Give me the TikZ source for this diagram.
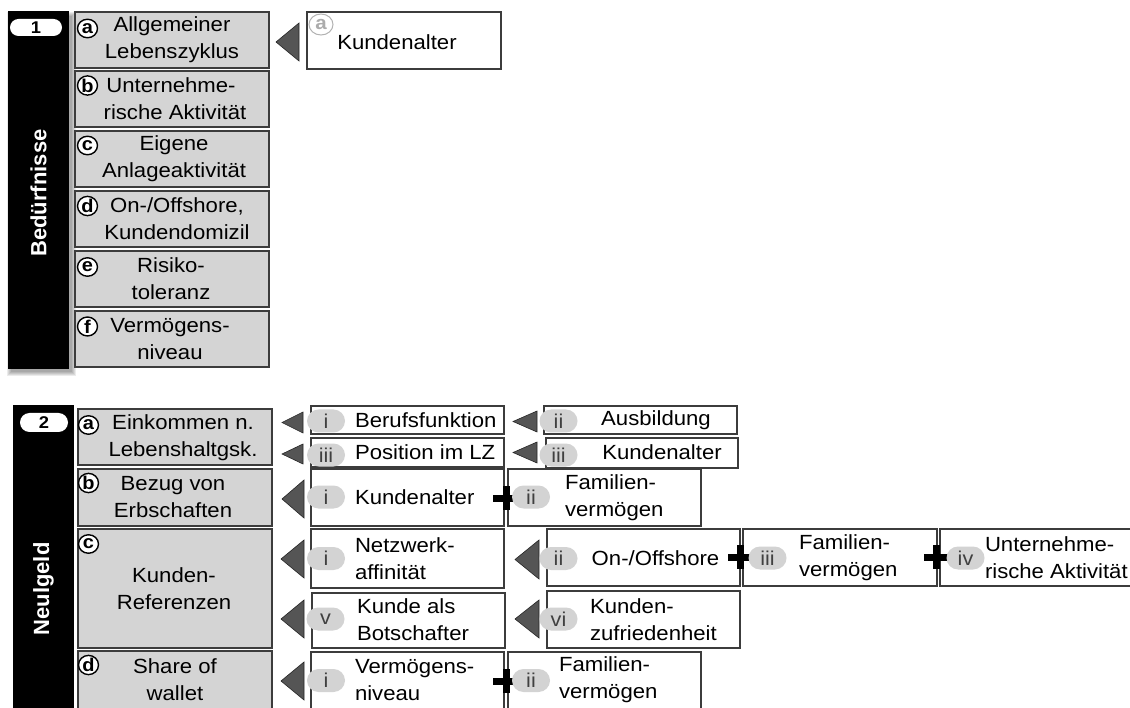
\documentclass[tikz,border=0pt]{standalone}
\usepackage{fontspec}
\setmainfont{Liberation Sans}[FakeStretch=1.08]
\newfontfamily\titlefont{Liberation Sans}
\usetikzlibrary{calc,shapes.geometric}
\definecolor{boxgray}{HTML}{D4D4D4}
\definecolor{edge}{HTML}{3C3C3C}
\definecolor{pillgray}{HTML}{D3D3D3}
\definecolor{wedgegray}{HTML}{555555}

\tikzset{
  every node/.style={inner sep=0pt, outer sep=0pt},
  cat/.style={draw=edge, line width=1.1pt, fill=boxgray, anchor=north west, minimum width=194pt},
  wbox/.style={draw=edge, line width=1.1pt, fill=white, anchor=north west},
  lbl/.style={font=\fontsize{20.5}{27}\selectfont, align=center},
  lbll/.style={font=\fontsize{20.5}{27}\selectfont, align=left, anchor=west},
  letter/.style={ellipse, draw=black, line width=1.4pt, fill=white, minimum width=20pt,
                 minimum height=18.5pt, font=\fontsize{18.5}{18.5}\bfseries\selectfont},
  pill/.style={fill=pillgray, rounded corners=11.5pt, minimum width=38pt, minimum height=23pt,
               font=\fontsize{20}{20}\selectfont, text=black!75},
  bar/.style={fill=black, anchor=north west, minimum width=61pt},
  num/.style={fill=white, rounded corners=8.5pt, minimum width=52pt, minimum height=17pt,
              font=\fontsize{17}{17}\bfseries\selectfont},
  vtitle/.style={rotate=90, text=white, font=\titlefont\fontsize{22}{22}\bfseries\selectfont},
  wedgefill/.style={fill=wedgegray, draw=black!85, line width=0.6pt, line join=miter},
}

% left-pointing wedge: name of its tip, tip x, centre y, width, height
\newcommand\wedgemark[5]{%
  \coordinate (#1) at (#2,#3);
  \filldraw[wedgefill] (#1) -- ++(#4,-#5/2) -- ++(0,#5) -- cycle;}
% bold plus sign joining two factors
\newcommand\plusmark[3]{%
  \coordinate (#1) at (#2,#3);
  \fill ($(#1)+(-13,-3.5)$) rectangle ($(#1)+(13,3.5)$);
  \fill ($(#1)+(-3.5,-12)$) rectangle ($(#1)+(3.5,12)$);}

\begin{document}
\begin{tikzpicture}[x=1pt, y=-1pt]
\useasboundingbox (0,0) rectangle (1130,708);
\clip (0,0) rectangle (1130,708);
\fill[white] (0,0) rectangle (1130,708);

%% ---------- 1: Bedürfnisse ----------
\foreach \d in {0,1,2,3,4}
  \fill[black, opacity=0.08] (11-\d,16-\d) rectangle (72+\d,372+\d);
\node[bar, minimum height=358pt] (bar1) at (8,11) {};
\node[num] (num1) at (36,27.5) {1};
\node[vtitle] (t1) at (38.5,193) {Bedürfnisse};

\node[cat, minimum height=56pt] (n1a) at (75,12) {};
\node[lbl] (n1at) at (172,40) {Allgemeiner\\Lebenszyklus};
\node[letter] (l1a) at (87.5,28.5) {a};

\node[cat, minimum height=56pt] (n1b) at (75,71) {};
\node[lbl] (n1bt) at (175,99) {\hspace*{-8pt}Unternehme-\\rische Aktivität};
\node[letter] (l1b) at (87.5,85.5) {b};

\node[cat, minimum height=56pt] (n1c) at (75,131) {};
\node[lbl] (n1ct) at (174,159) {Eigene\\Anlageaktivität};
\node[letter] (l1c) at (87.5,145.5) {c};

\node[cat, minimum height=56pt] (n1d) at (75,191) {};
\node[lbl] (n1dt) at (177,219) {On-/Offshore,\\Kundendomizil};
\node[letter] (l1d) at (87.5,206) {d};

\node[cat, minimum height=56pt] (n1e) at (75,251) {};
\node[lbl] (n1et) at (171,279) {Risiko-\\toleranz};
\node[letter] (l1e) at (87.5,267) {e};

\node[cat, minimum height=56pt] (n1f) at (75,311) {};
\node[lbl] (n1ft) at (170,339) {Vermögens-\\niveau};
\node[letter] (l1f) at (87.5,326.5) {f};

\wedgemark{w1a}{276}{42}{23}{38}
\node[wbox, minimum width=194pt, minimum height=57pt] (k1a) at (307,12) {};
\node[ellipse, draw=gray!60, line width=1pt, fill=white, minimum width=24pt, minimum height=21pt,
      text=gray!65, font=\fontsize{19}{19}\bfseries\selectfont] (k1al) at (321,24.5) {a};
\node[lbl] (k1at) at (397,42) {Kundenalter};

%% ---------- 2: Neugeld ----------
\node[bar, minimum height=320pt] (bar2) at (13,405) {};
\node[num, minimum width=48pt, minimum height=19pt, rounded corners=9.5pt] (num2) at (44,422.5) {2};
\node[vtitle] (t2) at (43.5,589) {Neulgeld};

\node[cat, minimum height=56pt] (n2a) at (78,409) {};
\node[lbl] (n2at) at (183,437.5) {Einkommen n.\\Lebenshaltgsk.};
\node[letter] (l2a) at (88.5,425) {a};

\node[cat, minimum height=57pt] (n2b) at (78,469) {};
\node[lbl] (n2bt) at (173,497.5) {Bezug von\\Erbschaften};
\node[letter] (l2b) at (88.5,483) {b};

\node[cat, minimum height=119pt] (n2c) at (78,529) {};
\node[lbl] (n2ct) at (174,588.5) {Kunden-\\Referenzen};
\node[letter] (l2c) at (88.5,544) {c};

\node[cat, minimum height=60pt] (n2d) at (78,651) {};
\node[lbl] (n2dt) at (175,679.5) {Share of\\wallet};
\node[letter] (l2d) at (88.5,665) {d};

% 2a, first row
\wedgemark{w2a1}{282}{422.5}{21}{21}
\node[wbox, minimum width=193pt, minimum height=28pt] (b2a1) at (311,406) {};
\node[pill] (p2a1) at (326,421) {i};
\node[lbll] (t2a1) at (355,420.5) {Berufsfunktion};
\wedgemark{w2a2}{513}{421.5}{24}{21}
\node[wbox, minimum width=193pt, minimum height=28pt] (b2a2) at (544,406) {};
\node[pill] (p2a2) at (558.5,421) {ii};
\node[lbl] (t2a2) at (656,420.5) {Ausbildung};

% 2a, second row
\wedgemark{w2a3}{282}{454}{21}{20}
\node[wbox, minimum width=193pt, minimum height=29pt] (b2a3) at (311,438) {};
\node[pill] (p2a3) at (326,455) {iii};
\node[lbll] (t2a3) at (355,452) {Position im LZ};
\wedgemark{w2a4}{513}{452.5}{24}{21}
\node[wbox, minimum width=192pt, minimum height=30pt] (b2a4) at (546,438) {};
\node[pill] (p2a4) at (558.5,455) {iii};
\node[lbl] (t2a4) at (662,452) {Kundenalter};

% 2b
\wedgemark{w2b1}{282}{499}{22}{38}
\node[wbox, minimum width=193pt, minimum height=57pt] (b2b1) at (311,469) {};
\node[wbox, minimum width=193pt, minimum height=57pt] (b2b2) at (508,469) {};
\plusmark{x2b}{506}{498}
\node[pill] (p2b1) at (326,497) {i};
\node[lbll] (t2b1) at (355,497) {Kundenalter};
\node[pill] (p2b2) at (531,497) {ii};
\node[lbll] (t2b2) at (565,497.5) {Familien-\\vermögen};

% 2c, upper row
\wedgemark{w2c1}{281}{559}{23}{38}
\node[wbox, minimum width=193pt, minimum height=59pt] (b2c1) at (311,529) {};
\node[pill] (p2c1) at (326,558.5) {i};
\node[lbll] (t2c1) at (355,559) {Netzwerk-\\affinität};
\wedgemark{w2c2}{515}{559.5}{24}{39}
\node[wbox, minimum width=193pt, minimum height=57pt] (b2c2) at (547,529) {};
\node[wbox, minimum width=194pt, minimum height=57pt] (b2c3) at (743,529) {};
\node[wbox, minimum width=200pt, minimum height=57pt] (b2c4) at (940,529) {};
\plusmark{x2c1}{740.5}{557}
\plusmark{x2c2}{936.5}{557}
\node[pill] (p2c2) at (558.5,558.5) {ii};
\node[lbl] (t2c2) at (655.5,558) {On-/Offshore};
\node[pill] (p2c3) at (767.5,558) {iii};
\node[lbll] (t2c3) at (799,557.5) {Familien-\\vermögen};
\node[pill] (p2c4) at (965.5,558) {iv};
\node[lbll] (t2c4) at (985,557.5) {Unternehme-\\rische Aktivität};

% 2c, lower row
\wedgemark{w2c5}{281}{619}{23}{38}
\node[wbox, minimum width=193pt, minimum height=55pt] (b2c5) at (312,593) {};
\node[pill] (p2c5) at (325.5,619) {v};
\node[lbll] (t2c5) at (357,620) {Kunde als\\Botschafter};
\wedgemark{w2c6}{515}{619}{24}{38}
\node[wbox, minimum width=193pt, minimum height=57pt] (b2c6) at (547,591) {};
\node[pill] (p2c6) at (558.5,619) {vi};
\node[lbll] (t2c6) at (590,619.5) {Kunden-\\zufriedenheit};

% 2d
\wedgemark{w2d1}{281}{681}{23}{38}
\node[wbox, minimum width=193pt, minimum height=60pt] (b2d1) at (311,652) {};
\node[wbox, minimum width=193pt, minimum height=60pt] (b2d2) at (508,652) {};
\plusmark{x2d}{506}{681}
\node[pill] (p2d1) at (326,680.5) {i};
\node[lbll] (t2d1) at (355,680) {Vermögens-\\niveau};
\node[pill] (p2d2) at (531,680.5) {ii};
\node[lbll] (t2d2) at (559,680) {Familien-\\vermögen};
\end{tikzpicture}
\end{document}
